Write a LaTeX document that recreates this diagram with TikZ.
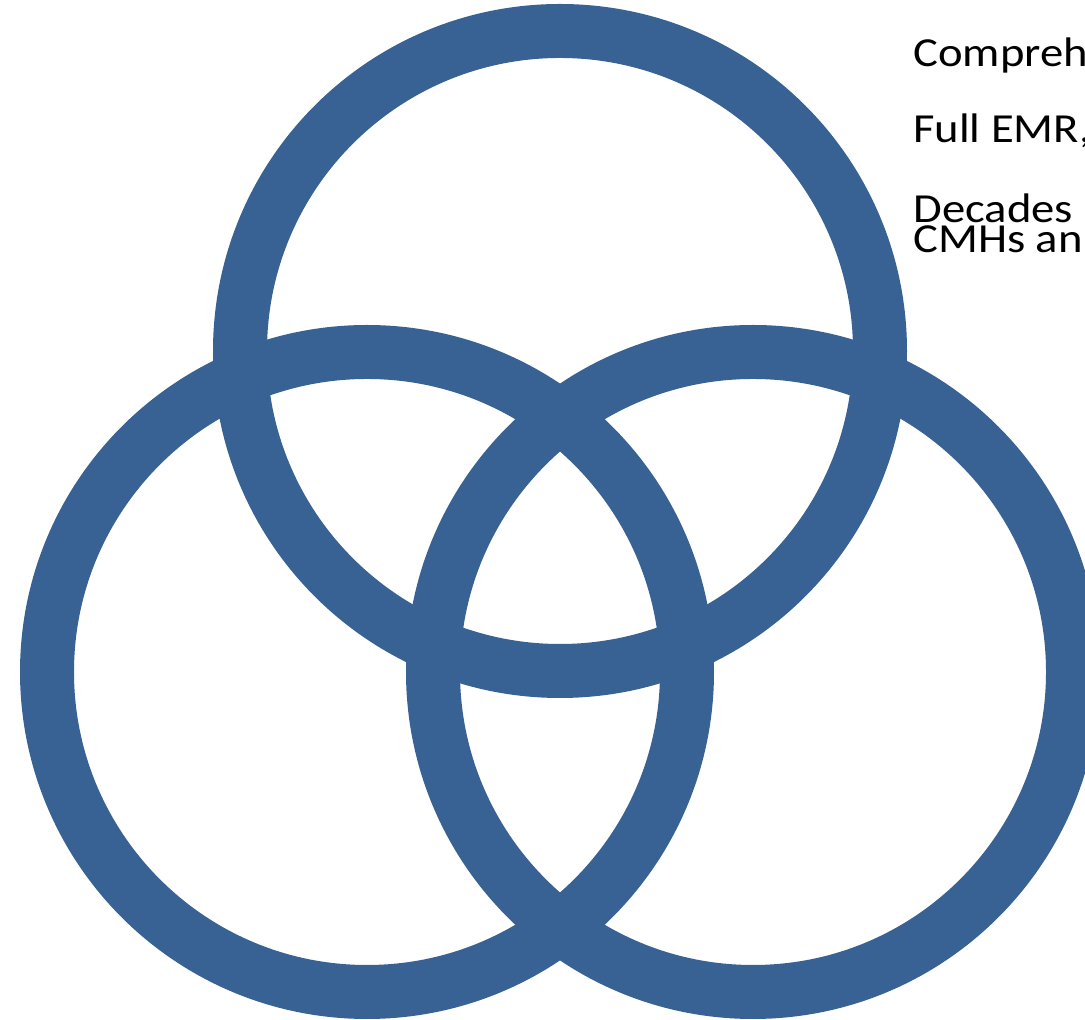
\documentclass[tikz,border=0pt]{standalone}
\usepackage{fontspec}
\setmainfont{Carlito}[FakeStretch=1.13]
\definecolor{ringblue}{RGB}{56,98,147}
\begin{document}
\begin{tikzpicture}[
    x=0.02cm, y=0.02cm,
    ring/.style={draw=ringblue, line width=1.08cm},
    label/.style={anchor=base west, inner sep=0pt, align=left,
                  font=\fontsize{23.5}{17.6}\selectfont}
]
\pgfmathsetmacro{\rr}{320}
\pgfmathsetmacro{\dx}{193}

\useasboundingbox (0,0) rectangle (1085,1020);

%% three rings
\coordinate (top)   at (560,669);
\coordinate (left)  at (560-\dx,348);
\coordinate (right) at (560+\dx,348);
\draw[ring] (top)   circle (\rr);
\draw[ring] (left)  circle (\rr);
\draw[ring] (right) circle (\rr);

%% text on the right
\node[label] (comp) at (913,953) {Compreh};
\node[label] (emr)  at (913,877) {Full EMR,};
\node[label] (dec)  at (913,767) {Decades\\CMHs an};
\end{tikzpicture}
\end{document}
